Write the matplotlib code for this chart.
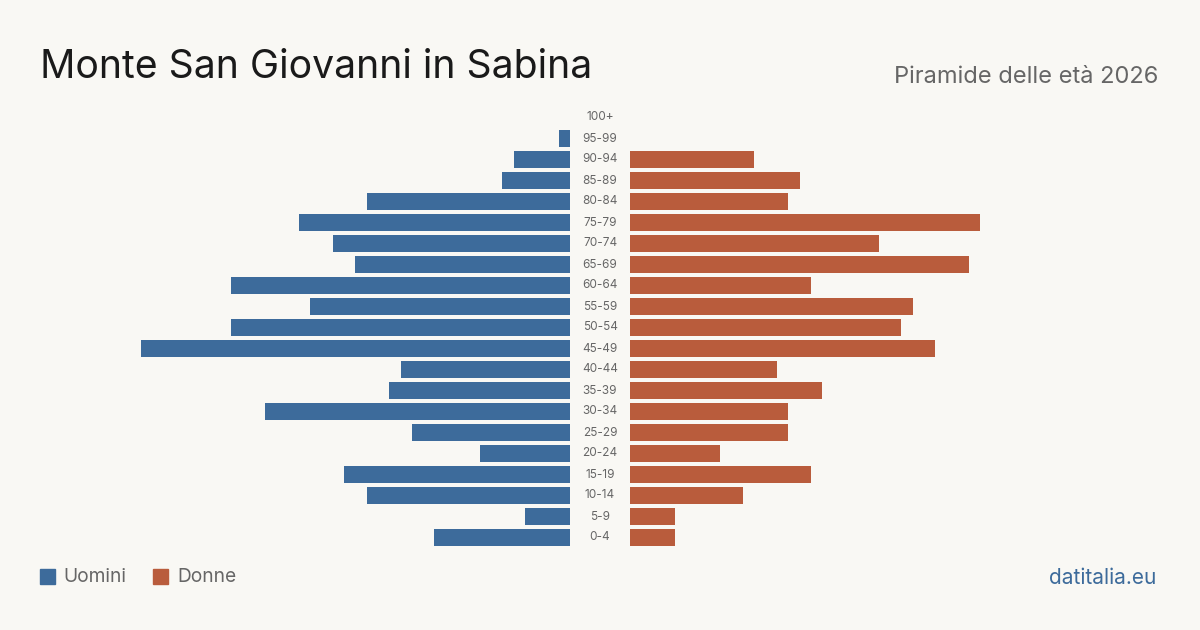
import matplotlib.pyplot as plt
import numpy as np

# -----------------------------
# Data (population by age band)
# -----------------------------
age_groups = ["100+", "95-99", "90-94", "85-89", "80-84", "75-79", "70-74",
              "65-69", "60-64", "55-59", "50-54", "45-49", "40-44", "35-39",
              "30-34", "25-29", "20-24", "15-19", "10-14", "5-9", "0-4"]
men = [0, 1, 5, 6, 18, 24, 21, 19, 30, 23, 30, 38, 15, 16, 27, 14, 8, 20, 18, 4, 12]
women = [0, 0, 11, 15, 14, 31, 22, 30, 16, 25, 24, 27, 13, 17, 14, 14, 8, 16, 10, 4, 4]

title = "Monte San Giovanni in Sabina"
subtitle = "Piramide delle età 2026"

# -----------------------------
# Style
# -----------------------------
plt.rcParams['font.family'] = ['Inter', 'DejaVu Sans']
bg = '#f9f8f4'
c_men = '#3d6b9b'
c_women = '#b95c3c'
c_text = '#666666'

W, H = 1200, 630
fig = plt.figure(figsize=(W / 100, H / 100), dpi=100, facecolor=bg)

xmax = 40.0
px_per_unit = 11.3
top_px, bot_px = 107.0, 548.0

def axes_box(x0_px, x1_px):
    return [x0_px / W, 1 - bot_px / H, (x1_px - x0_px) / W, (bot_px - top_px) / H]

ax_l = fig.add_axes(axes_box(570 - xmax * px_per_unit, 570))
ax_r = fig.add_axes(axes_box(630, 630 + xmax * px_per_unit))

y = np.arange(len(age_groups))
ax_l.barh(y, men, height=0.8, color=c_men)
ax_r.barh(y, women, height=0.8, color=c_women)

for ax in (ax_l, ax_r):
    ax.set_ylim(len(age_groups) - 0.5, -0.5)
    ax.set_facecolor('none')
    ax.axis('off')
ax_l.set_xlim(xmax, 0)
ax_r.set_xlim(0, xmax)

# age labels in the gap
for i, lab in enumerate(age_groups):
    fig.text(600 / W, 1 - (117.5 + 21 * i) / H, lab, ha='center', va='center',
             fontsize=8.5, color=c_text)

# -----------------------------
# Texts
# -----------------------------
fig.text(40 / W, 1 - 67 / H, title, ha='left', va='center', fontsize=28.2, color='#1a1a1a')
fig.text(1158 / W, 1 - 77 / H, subtitle, ha='right', va='center', fontsize=17, color=c_text)

# legend
fig.patches.append(plt.Rectangle((40 / W, 1 - 584 / H), 15 / W, 15 / H,
                                 transform=fig.transFigure, color=c_men))
fig.text(63 / W, 1 - 577.5 / H, "Uomini", ha='left', va='center', fontsize=13.8, color=c_text)
fig.patches.append(plt.Rectangle((153 / W, 1 - 584 / H), 15 / W, 15 / H,
                                 transform=fig.transFigure, color=c_women))
fig.text(177 / W, 1 - 577.5 / H, "Donne", ha='left', va='center', fontsize=13.8, color=c_text)

fig.text(1156 / W, 1 - 577.5 / H, "datitalia.eu", ha='right', va='center', fontsize=15, color=c_men)

fig.savefig('out.png', dpi=100, facecolor=bg)
